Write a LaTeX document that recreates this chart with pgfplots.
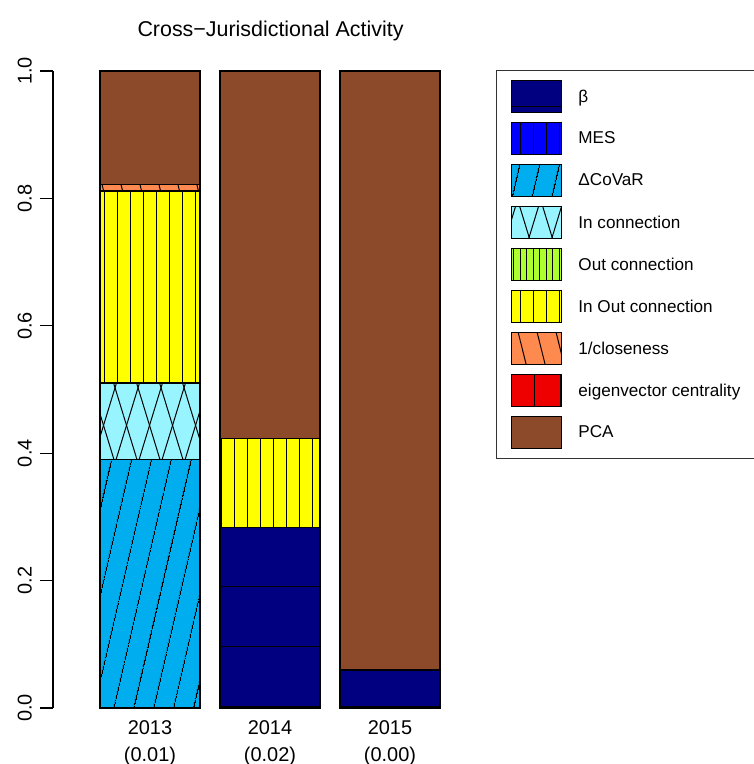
\documentclass[border=0pt]{standalone}
\usepackage{pgfplots}
\pgfplotsset{compat=1.18}
\usetikzlibrary{patterns.meta}
\usepackage{fontspec}
\setmainfont{Liberation Sans}
\definecolor{cBeta}{HTML}{000080}
\definecolor{cMES}{HTML}{0000FF}
\definecolor{cCoVaR}{HTML}{00AEEF}
\definecolor{cIn}{HTML}{98F5FF}
\definecolor{cOut}{HTML}{ADFF2F}
\definecolor{cInOut}{HTML}{FFFF00}
\definecolor{cClose}{HTML}{FF8A4F}
\definecolor{cEig}{HTML}{EE0000}
\definecolor{cPCA}{HTML}{8C4A2A}
\begin{document}
\begin{tikzpicture}
\useasboundingbox (0,0) rectangle (754bp,764bp);
\begin{axis}[
  at={(53bp,56bp)}, anchor=south west,
  scale only axis, width=400.6bp, height=637bp,
  ybar stacked, bar width=1,
  xmin=-0.27, xmax=3.736, ymin=0, ymax=1,
  clip=false,
  axis lines*=left,
  x axis line style={draw=none},
  y axis line style={line width=1.3bp},
  xtick={0.7,1.9,3.1},
  xticklabels={{2013\\(0.01)},{2014\\(0.02)},{2015\\(0.00)}},
  xtick style={draw=none},
  xticklabel style={align=center, anchor=north, inner sep=0pt, yshift=1bp, font=\fontsize{20}{27}\selectfont},
  ytick={0,0.2,0.4,0.6,0.8,1},
  yticklabels={0.0,0.2,0.4,0.6,0.8,1.0},
  ytick style={line width=1.3bp, black},
  tick align=outside, major tick length=13bp,
  yticklabel style={rotate=90, anchor=south, inner sep=0pt, yshift=8bp, font=\fontsize{20}{24}\selectfont},
  title={Cross−Jurisdictional Activity},
  title style={font=\fontsize{21.5}{26}\selectfont, at={(axis description cs:0.543,1.0455)}, anchor=base, inner sep=0pt},
  legend image code/.code={\draw[#1] (0bp,-16bp) rectangle (50bp,16bp);},
  legend cell align=left,
  legend style={at={(axis description cs:1.1058,1.0016)}, anchor=north west,
    draw=black!80, line width=1.3bp, inner xsep=14bp, inner ysep=9.3bp,
    row sep=8.5bp, column sep=16.3bp,
    font=\fontsize{17.2}{20}\selectfont,
    nodes={inner sep=0pt}},
  every axis plot/.append style={draw=black, line width=1.5bp},
]
\addplot[fill=cBeta, postaction={pattern={Lines[angle=0,distance=60bp,yshift=57bp,line width=1bp]}}]
  coordinates {(0.7,0) (1.9,0.283) (3.1,0.06)};
\addlegendentry{β}
\addplot[fill=cMES, postaction={pattern={Lines[angle=90,distance=13bp,line width=1bp]}}]
  coordinates {(0.7,0) (1.9,0) (3.1,0)};
\addlegendentry{MES}
\addplot[fill=cCoVaR, postaction={pattern={Lines[angle=77,distance=19.5bp,line width=1bp]}}]
  coordinates {(0.7,0.39) (1.9,0) (3.1,0)};
\addlegendentry{ΔCoVaR}
\addplot[fill=cIn, postaction={pattern={Lines[angle=73,distance=22bp,line width=1bp]}}, postaction={pattern={Lines[angle=-73,distance=22bp,line width=1bp]}}]
  coordinates {(0.7,0.12) (1.9,0) (3.1,0)};
\addlegendentry{In connection}
\addplot[fill=cOut, postaction={pattern={Lines[angle=90,distance=6.5bp,line width=1bp]}}]
  coordinates {(0.7,0) (1.9,0) (3.1,0)};
\addlegendentry{Out connection}
\addplot[fill=cInOut, postaction={pattern={Lines[angle=90,distance=13bp,line width=1bp]}}]
  coordinates {(0.7,0.302) (1.9,0.14) (3.1,0)};
\addlegendentry{In Out connection}
\addplot[fill=cClose, postaction={pattern={Lines[angle=104,distance=18.4bp,line width=1bp]}}]
  coordinates {(0.7,0.010) (1.9,0) (3.1,0)};
\addlegendentry{1/closeness}
\addplot[fill=cEig, postaction={pattern={Lines[angle=90,distance=26.7bp,line width=1bp]}}]
  coordinates {(0.7,0) (1.9,0) (3.1,0)};
\addlegendentry{eigenvector centrality\hspace{12bp}}
\addplot[fill=cPCA]
  coordinates {(0.7,0.178) (1.9,0.577) (3.1,0.94)};
\addlegendentry{PCA}
\end{axis}
\end{tikzpicture}
\end{document}
